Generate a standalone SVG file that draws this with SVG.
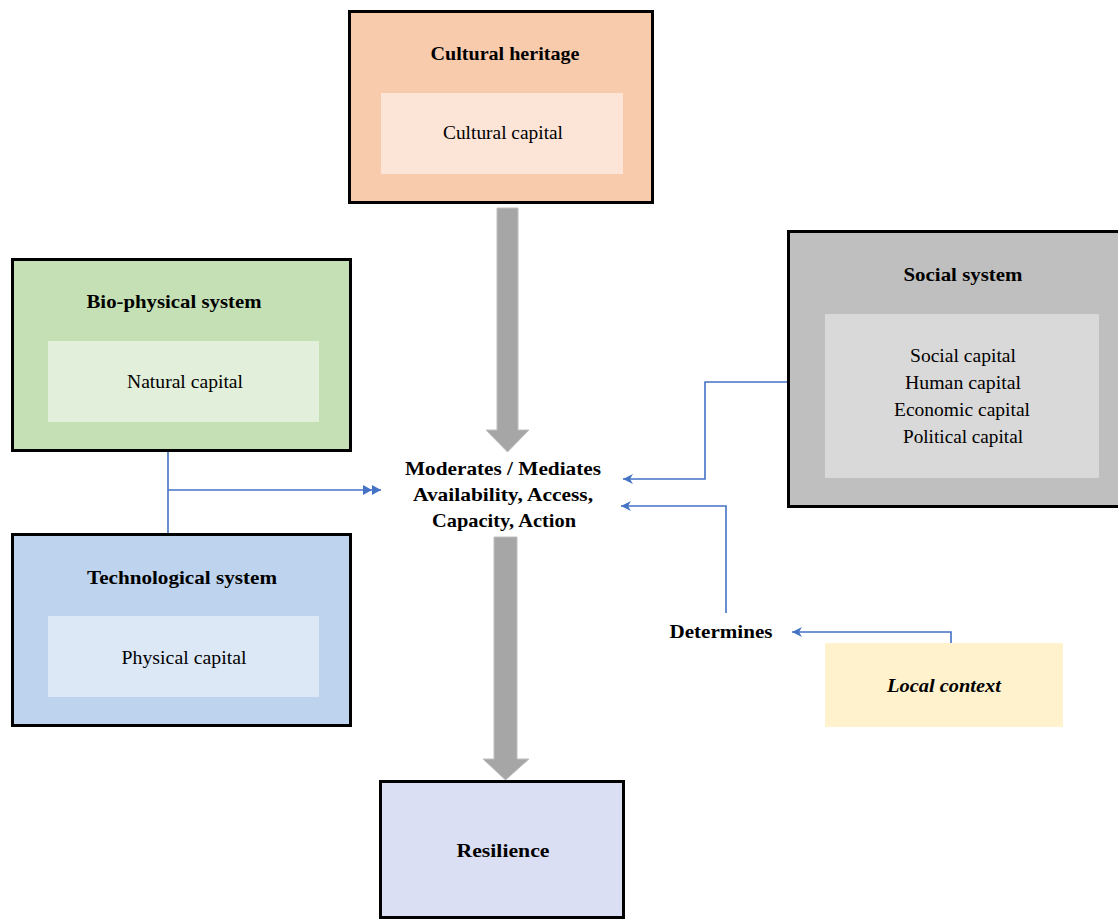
<svg xmlns="http://www.w3.org/2000/svg" width="1118" height="920" viewBox="0 0 1118 920">
<style>
.box{stroke:#000;stroke-width:3}
.title{font-family:"Liberation Serif",serif;font-weight:bold;font-size:19px;fill:#000;text-anchor:middle}
.label{font-family:"Liberation Serif",serif;font-size:19px;fill:#000;text-anchor:middle}
.conn{fill:none;stroke:#4472C4;stroke-width:1.6}
.big{fill:#A6A6A6;stroke:#BFBFBF;stroke-width:1}
</style>
<defs>
<marker id="ah" viewBox="0 0 10 10" refX="10" refY="5" markerWidth="10" markerHeight="10" markerUnits="userSpaceOnUse" orient="auto">
<path d="M0,0 L10,5 L0,10 L3,5 Z" fill="#4472C4"/>
</marker>
<marker id="dah" viewBox="0 0 18 10" refX="18" refY="5" markerWidth="18" markerHeight="10" markerUnits="userSpaceOnUse" orient="auto">
<path d="M0,0 L9,5 L0,10 Z M9,0 L18,5 L9,10 Z" fill="#4472C4"/>
</marker>
</defs>
<rect width="1118" height="920" fill="#fff"/>
<g id="connectors">
<path class="big" d="M497,208 H518 V430 H529 L507.5,452 L486,430 H497 Z"/>
<path class="big" d="M494,537 H517 V759 H529 L505.5,780 L483,759 H494 Z"/>
<path class="conn" d="M168,452 V535"/>
<path class="conn" d="M168,490 H381" marker-end="url(#dah)"/>
<path class="conn" d="M787,382 H705 V479 H623" marker-end="url(#ah)"/>
<path class="conn" d="M726,613 V506 H621" marker-end="url(#ah)"/>
<path class="conn" d="M951,643 V632 H792" marker-end="url(#ah)"/>
</g>
<g id="cultural">
<rect class="box" x="349.5" y="11.5" width="303" height="191" fill="#F8CBAD"/>
<rect x="381" y="93" width="242" height="81" fill="#FCE4D6"/>
<text class="title" x="505" y="60" textLength="149" lengthAdjust="spacingAndGlyphs">Cultural heritage</text>
<text class="label" x="503" y="139" textLength="120" lengthAdjust="spacingAndGlyphs">Cultural capital</text>
</g>
<g id="biophysical">
<rect class="box" x="12.5" y="259.5" width="338" height="191" fill="#C5E0B4"/>
<rect x="48" y="341" width="271" height="81" fill="#E2EFDA"/>
<text class="title" x="174" y="308" textLength="175" lengthAdjust="spacingAndGlyphs">Bio-physical system</text>
<text class="label" x="185" y="388" textLength="116" lengthAdjust="spacingAndGlyphs">Natural capital</text>
</g>
<g id="technological">
<rect class="box" x="12.5" y="534.5" width="338" height="191" fill="#BDD3EE"/>
<rect x="48" y="616" width="271" height="81" fill="#DCE8F6"/>
<text class="title" x="182" y="584" textLength="190" lengthAdjust="spacingAndGlyphs">Technological system</text>
<text class="label" x="184" y="664" textLength="125" lengthAdjust="spacingAndGlyphs">Physical capital</text>
</g>
<g id="social">
<rect class="box" x="788.5" y="231.5" width="332" height="275" fill="#BFBFBF"/>
<rect x="825" y="314" width="274" height="164" fill="#D9D9D9"/>
<text class="title" x="963" y="281" textLength="119" lengthAdjust="spacingAndGlyphs">Social system</text>
<text class="label" x="963" y="362" textLength="106" lengthAdjust="spacingAndGlyphs">Social capital</text>
<text class="label" x="963" y="389" textLength="116" lengthAdjust="spacingAndGlyphs">Human capital</text>
<text class="label" x="962" y="416" textLength="136" lengthAdjust="spacingAndGlyphs">Economic capital</text>
<text class="label" x="963" y="443" textLength="120" lengthAdjust="spacingAndGlyphs">Political capital</text>
</g>
<g id="moderates">
<text class="title" x="503" y="475" textLength="196" lengthAdjust="spacingAndGlyphs">Moderates / Mediates</text>
<text class="title" x="503" y="501" textLength="180" lengthAdjust="spacingAndGlyphs">Availability, Access,</text>
<text class="title" x="504" y="527" textLength="144" lengthAdjust="spacingAndGlyphs">Capacity, Action</text>
</g>
<g id="determines">
<text class="title" x="721" y="638" textLength="103" lengthAdjust="spacingAndGlyphs">Determines</text>
</g>
<g id="localcontext">
<rect x="825" y="643" width="238" height="84" fill="#FFF2CC"/>
<text class="title" x="944" y="692" font-style="italic" textLength="114" lengthAdjust="spacingAndGlyphs">Local context</text>
</g>
<g id="resilience">
<rect class="box" x="380.5" y="781.5" width="243" height="136" fill="#DADFF3"/>
<text class="title" x="503" y="857" textLength="93" lengthAdjust="spacingAndGlyphs">Resilience</text>
</g>
</svg>
